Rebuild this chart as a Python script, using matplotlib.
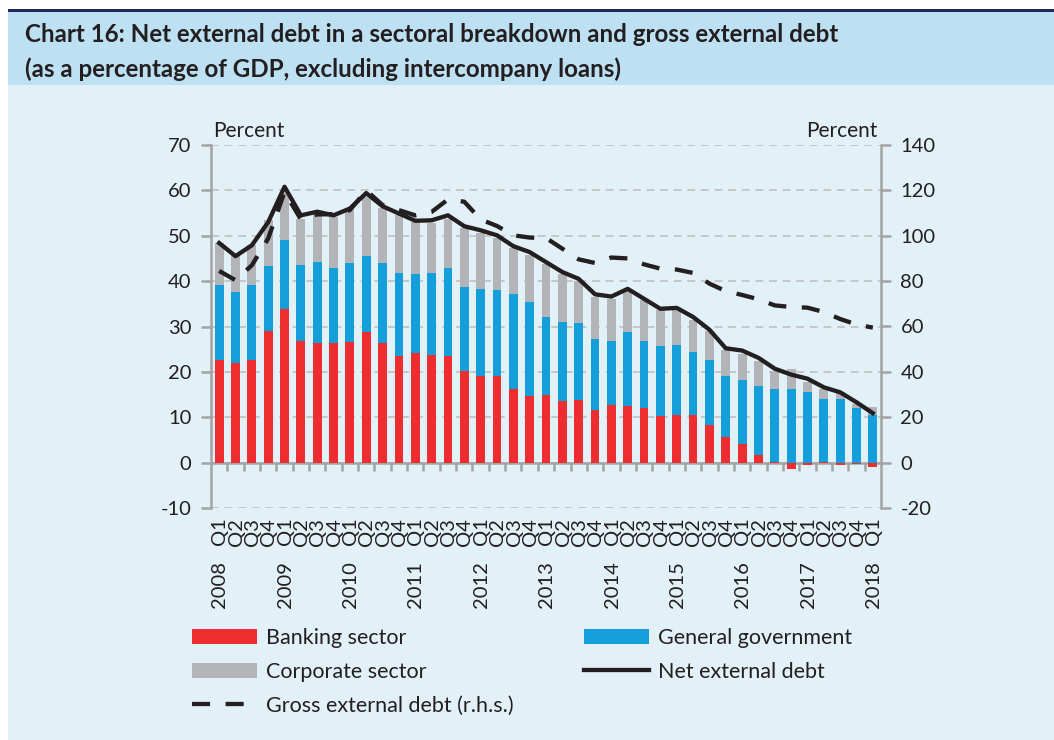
import matplotlib
matplotlib.use("Agg")
import matplotlib.pyplot as plt
import numpy as np
from matplotlib.lines import Line2D
from matplotlib.patches import Patch, Rectangle

plt.rcParams["font.family"] = ["Lato", "DejaVu Sans"]
plt.rcParams["axes.unicode_minus"] = False

# quarterly data, 2008 Q1 - 2018 Q1 (% of GDP)
quarters = ["Q1", "Q2", "Q3", "Q4"] * 10 + ["Q1"]
years = [str(y) for y in range(2008, 2019)]

banking = [22.7, 22.0, 22.6, 29.1, 33.9, 26.9, 26.3, 26.4, 26.6, 28.7,
           26.3, 23.5, 24.1, 23.8, 23.4, 20.2, 19.1, 19.1, 16.3, 14.7,
           15.0, 13.5, 13.7, 11.5, 12.6, 12.4, 12.1, 10.3, 10.5, 10.5,
           8.4, 5.7, 4.0, 1.7, 0.1, -1.4, -0.5, 0.1, -0.5, -0.3, -1.0]
government = [16.4, 15.7, 16.5, 14.2, 15.1, 16.6, 17.9, 16.6, 17.5, 16.8,
              17.6, 18.4, 17.4, 18.1, 19.6, 18.4, 19.1, 18.9, 20.9, 20.8,
              17.2, 17.6, 17.1, 15.8, 14.2, 16.3, 14.8, 15.3, 15.5, 13.8,
              14.3, 13.3, 14.3, 15.1, 16.1, 16.2, 15.5, 14.0, 14.0, 12.1, 10.6]
corporate = [9.2, 8.0, 8.9, 10.1, 10.5, 10.3, 10.3, 11.2, 11.5, 13.0,
             12.3, 12.6, 11.5, 10.8, 10.8, 13.2, 12.3, 11.4, 10.0, 10.2,
             11.5, 10.4, 9.2, 9.2, 9.3, 9.3, 8.9, 8.0, 7.6, 7.2,
             6.4, 5.9, 5.7, 5.7, 4.1, 4.4, 2.2, 2.2, 1.5, 0.9, 1.6]
net_debt = [48.4, 45.5, 47.9, 53.0, 60.8, 54.5, 55.3, 54.5, 56.0, 59.4,
            56.5, 54.9, 53.3, 53.4, 54.5, 52.1, 51.2, 50.1, 47.7, 46.4,
            44.2, 42.0, 40.5, 37.1, 36.6, 38.3, 36.1, 33.9, 34.1, 32.1,
            29.3, 25.2, 24.7, 23.1, 20.7, 19.4, 18.5, 16.6, 15.5, 13.3, 10.9]
gross_debt = [84.5, 80.4, 87.0, 98.8, 119.3, 107.2, 109.4, 109.5, 111.3, 120.0,
              113.5, 111.3, 109.0, 110.5, 116.0, 115.0, 107.2, 104.3, 100.2, 99.2,
              99.0, 94.3, 89.6, 88.0, 90.4, 90.0, 87.4, 85.5, 85.1, 83.6,
              78.9, 75.6, 73.9, 72.0, 69.3, 68.6, 68.3, 66.4, 63.3, 60.9, 59.5]

RED = "#EE2D30"
BLUE = "#159FDA"
GREY = "#B3B4B7"
INK = "#231F20"
AXIS = "#A3A3A3"
BG = "#E2F0F7"
BAND = "#BEE0F3"

fig = plt.figure(figsize=(10.54, 7.4), dpi=100)
fig.patch.set_facecolor("white")

# background panels
fig.add_artist(Rectangle((8 / 1054, 0), 1, 1 - 85 / 740, transform=fig.transFigure,
                         facecolor=BG, edgecolor="none", zorder=0))
fig.add_artist(Rectangle((8 / 1054, 1 - 85 / 740), 1, 73 / 740, transform=fig.transFigure,
                         facecolor=BAND, edgecolor="none", zorder=0))
fig.add_artist(Rectangle((8 / 1054, 1 - 12 / 740), 1, 2.5 / 740, transform=fig.transFigure,
                         facecolor="#1F2A5A", edgecolor="none", zorder=0))

fig.text(25 / 1054, 1 - 35 / 740,
         "Chart 16: Net external debt in a sectoral breakdown and gross external debt",
         fontsize=17.4, fontweight="bold", color=INK, va="center", ha="left")
fig.text(25 / 1054, 1 - 69 / 740,
         "(as a percentage of GDP, excluding intercompany loans)",
         fontsize=17.4, fontweight="bold", color=INK, va="center", ha="left")

ax = fig.add_axes([211 / 1054, 1 - 508 / 740, 670 / 1054, 363 / 740])
ax.set_facecolor("none")
ax2 = ax.twinx()

x = np.arange(len(banking))
bank = np.array(banking)
gov = np.array(government)
corp = np.array(corporate)
base_gov = np.clip(bank, 0, None)

w = 0.54
ax.bar(x, bank, w, color=RED, zorder=3)
ax.bar(x, gov, w, bottom=base_gov, color=BLUE, zorder=3)
ax.bar(x, corp, w, bottom=base_gov + gov, color=GREY, zorder=3)
ax.plot(x, net_debt, color=INK, lw=3.1, zorder=5, solid_joinstyle="round")
ax2.plot(x, gross_debt, color=INK, lw=3.1, dashes=(4.2, 3.6), zorder=5)

ax.set_xlim(-0.5, len(x) - 0.5)
ax.set_ylim(-10, 70)
ax2.set_ylim(-20, 140)
ax.set_yticks(range(-10, 71, 10))
ax2.set_yticks(range(-20, 141, 20))

ax.grid(axis="y", color="#C6C6C6", lw=1.4, ls=(0, (4, 3)), zorder=1)
ax.set_axisbelow(True)

for a in (ax, ax2):
    a.spines["top"].set_visible(False)
    a.spines["bottom"].set_visible(False)
    a.spines["left"].set_color(AXIS)
    a.spines["right"].set_color(AXIS)
    a.spines["left"].set_linewidth(1.8)
    a.spines["right"].set_linewidth(1.8)
    a.tick_params(axis="y", colors=AXIS, labelcolor=INK, labelsize=14.5,
                  width=1.8, length=7, pad=7)
ax.spines["right"].set_visible(False)
ax2.spines["left"].set_visible(False)

# zero line with category separators hanging below it
ax.spines["bottom"].set_visible(True)
ax.spines["bottom"].set_position(("data", 0))
ax.spines["bottom"].set_color(AXIS)
ax.spines["bottom"].set_linewidth(1.8)
ax.set_xticks(x[:-1] + 0.5)
ax.tick_params(axis="x", colors=AXIS, width=1.8, length=6, labelbottom=False)

for i, q in enumerate(quarters):
    ax.annotate(q, xy=(i, 0), xycoords=("data", "axes fraction"),
                xytext=(0.5, -7), textcoords="offset points",
                rotation=90, ha="center", va="top", fontsize=14.5, color=INK)
for k, yr in enumerate(years):
    ax.annotate(yr, xy=(4 * k, 0), xycoords=("data", "axes fraction"),
                xytext=(0.5, -38), textcoords="offset points",
                rotation=90, ha="center", va="top", fontsize=14.5, color=INK)

fig.text(213 / 1054, 1 - 131 / 740, "Percent", fontsize=15, color=INK, va="center", ha="left")
fig.text(877 / 1054, 1 - 131 / 740, "Percent", fontsize=15, color=INK, va="center", ha="right")

legend_kw = dict(loc="upper left", frameon=False, fontsize=15.5, handlelength=3.0,
                 handleheight=0.7, handletextpad=0.45, labelspacing=0.65,
                 borderpad=0.0, borderaxespad=0.0, labelcolor=INK)
fig.legend([Patch(facecolor=RED, edgecolor="none"),
            Patch(facecolor=GREY, edgecolor="none"),
            Line2D([], [], color=INK, lw=3.1, dashes=(4.2, 3.6))],
           ["Banking sector", "Corporate sector", "Gross external debt (r.h.s.)"],
           bbox_to_anchor=(192 / 1054, 1 - 628 / 740), **legend_kw)
fig.legend([Patch(facecolor=BLUE, edgecolor="none"),
            Line2D([], [], color=INK, lw=3.1)],
           ["General government", "Net external debt"],
           bbox_to_anchor=(584 / 1054, 1 - 628 / 740), **legend_kw)

fig.savefig("out.png", dpi=100, facecolor=fig.get_facecolor())
